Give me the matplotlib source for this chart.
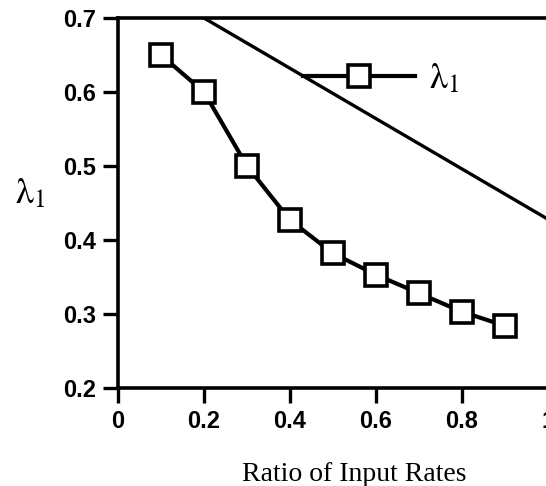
from matplotlib import pyplot as plt

plt.rcParams['mathtext.fontset'] = 'stix'

ratio = [0.1, 0.2, 0.3, 0.4, 0.5, 0.6, 0.7, 0.8, 0.9]
lam1 = [0.65, 0.60, 0.50, 0.427, 0.382, 0.353, 0.328, 0.303, 0.284]
bound_x = [0.2, 1.0]
bound_y = [0.70, 0.428]
xticks = [0, 0.2, 0.4, 0.6, 0.8, 1.0]
xticklabels = ["0", "0.2", "0.4", "0.6", "0.8", "1"]
yticks = [0.2, 0.3, 0.4, 0.5, 0.6, 0.7]
yticklabels = ["0.2", "0.3", "0.4", "0.5", "0.6", "0.7"]

W, H = 546, 486
fig = plt.figure(figsize=(W / 100, H / 100), dpi=100)
ax = fig.add_axes([118 / W, 1 - 388 / H, 430 / W, 370 / H])

ax.plot(ratio, lam1, color="black", linewidth=3, marker="s", markersize=16,
        markerfacecolor="white", markeredgecolor="black", markeredgewidth=2.6,
        label=r"$\mathrm{\lambda}_1$", clip_on=False, zorder=3)
ax.plot(bound_x, bound_y, color="black", linewidth=2.4)

ax.set_xlim(0, 1.0)
ax.set_ylim(0.2, 0.7)
ax.spines["right"].set_visible(False)
for s in ["left", "bottom", "top"]:
    ax.spines[s].set_linewidth(2.6)
ax.set_xticks(xticks)
ax.set_xticklabels(xticklabels)
ax.set_yticks(yticks)
ax.set_yticklabels(yticklabels)
ax.tick_params(axis="both", direction="out", length=11, width=2.4, pad=5)
for lab in ax.get_xticklabels() + ax.get_yticklabels():
    lab.set_fontfamily("Liberation Sans")
    lab.set_fontweight("bold")
    lab.set_fontsize(17)

leg = ax.legend(loc="center left", bbox_to_anchor=(0.43, 0.837), frameon=False,
                fontsize=26, handlelength=3.1, handletextpad=0.4,
                borderpad=0, borderaxespad=0)

fig.text(354 / W, 1 - 474 / H, "Ratio of Input Rates", family="Liberation Serif",
         fontsize=20, ha="center", va="center")
fig.text(30 / W, 1 - 193 / H, r"$\mathrm{\lambda}_1$", fontsize=26, ha="center", va="center")

plt.savefig("out.png", dpi=100)
